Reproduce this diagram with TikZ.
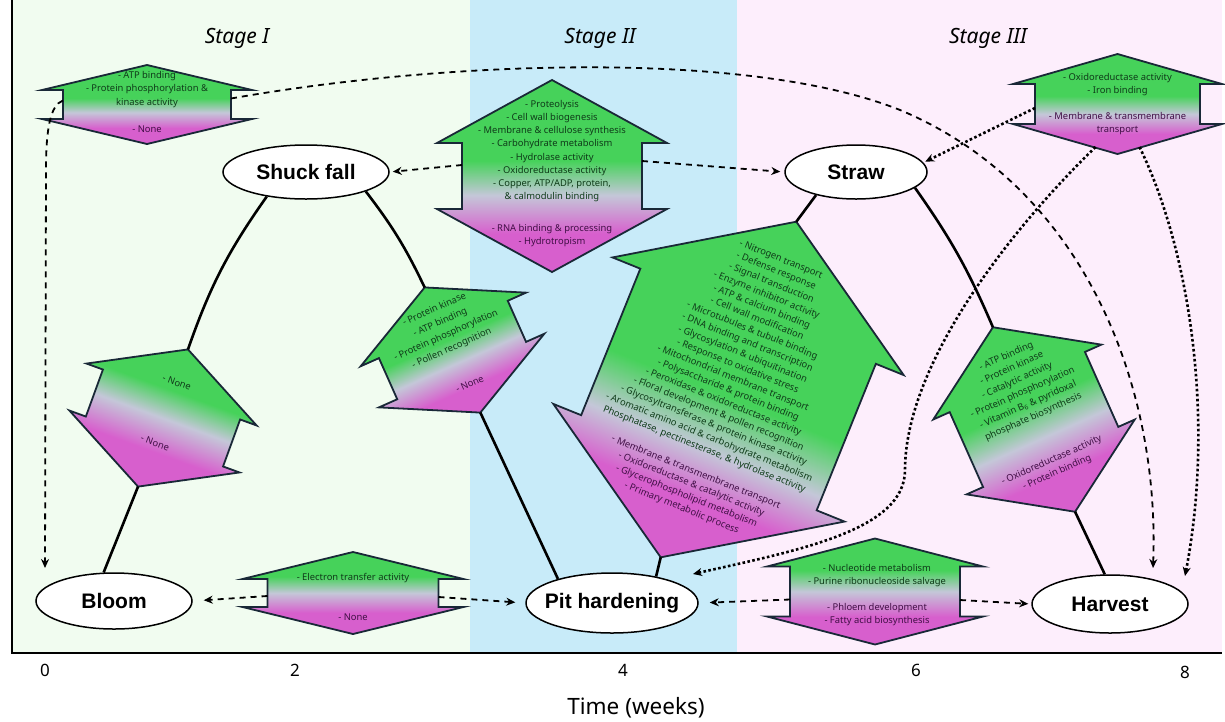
\documentclass[tikz,border=0pt]{standalone}
\usepackage{fontspec}
\setmainfont{Noto Sans}
\newfontfamily\lblfont{Liberation Sans}
\usetikzlibrary{arrows.meta,calc,shapes.geometric}
\definecolor{bgI}{RGB}{241,252,240}
\definecolor{bgII}{RGB}{200,235,249}
\definecolor{bgIII}{RGB}{253,238,252}
\definecolor{agrn}{RGB}{70,210,90}
\definecolor{amag}{RGB}{215,95,205}
\definecolor{agry}{RGB}{196,199,216}
\definecolor{aline}{RGB}{25,40,55}
\definecolor{tgrn}{RGB}{15,60,25}
\definecolor{tmag}{RGB}{65,15,70}
\pgfdeclareverticalshading{gmshade}{100bp}{color(0bp)=(amag); color(35bp)=(amag); color(45bp)=(agry); color(54bp)=(agrn); color(100bp)=(agrn)}
\pgfdeclareverticalshading{gmshadeB}{100bp}{color(0bp)=(amag); color(34bp)=(amag); color(41bp)=(agry); color(49bp)=(agrn); color(100bp)=(agrn)}
\pgfdeclareverticalshading{gmshadeC}{100bp}{color(0bp)=(amag); color(38bp)=(amag); color(50bp)=(agry); color(60bp)=(agrn); color(100bp)=(agrn)}
\newcommand\udpath[4]{(0,{-(#3+#4/2)}) -- ({#1/2},{-#4/2}) -- ({#2/2},{-#4/2}) -- ({#2/2},{#4/2}) -- ({#1/2},{#4/2}) -- (0,{#3+#4/2}) -- ({-#1/2},{#4/2}) -- ({-#2/2},{#4/2}) -- ({-#2/2},{-#4/2}) -- ({-#1/2},{-#4/2}) -- cycle}
\tikzset{
  udshape/.style={shade, shading=#1, draw=aline, line width=1.8pt, line join=miter},
  udshape/.default=gmshade,
  arrowframe/.style n args={3}{transform canvas={shift={(#1,#2)},rotate=#3}},
  tg/.style={text=tgrn, font=\fontsize{9.4}{#1}\selectfont, align=center, inner sep=0pt},
  tm/.style={text=tmag, font=\fontsize{9.4}{#1}\selectfont, align=center, inner sep=0pt},
  tg/.default=13, tm/.default=13,
  stagenode/.style={ellipse, draw=black, line width=1.5pt, fill=white, inner sep=0pt, font=\lblfont\bfseries\fontsize{21}{24}\selectfont},
  stagelab/.style={font=\itshape\fontsize{21}{24}\selectfont, inner sep=0pt},
  ticklab/.style={font=\fontsize{17}{20}\selectfont, inner sep=0pt},
  link/.style={line width=2.6pt, black},
  dashc/.style={-{Stealth[length=9pt,width=8pt]}, line width=1.8pt, dash pattern=on 6pt off 5pt},
  dotc/.style={-{Stealth[length=9pt,width=8pt]}, line width=2.6pt, dash pattern=on 2.6pt off 2.4pt},
}
\begin{document}
\begin{tikzpicture}[x=1pt,y=-1pt]
\useasboundingbox (0,0) rectangle (1225,721);
\fill[white] (0,0) rectangle (1225,721);
\fill[bgI] (12,0) rectangle (470,653);
\fill[bgII] (470,0) rectangle (737,653);
\fill[bgIII] (737,0) rectangle (1222,653);
\draw[line width=1.6pt] (12,0) -- (12,653) -- (1222,653);

% stage labels and axis labels
\node[stagelab] (st1) at (237,38) {Stage I};
\node[stagelab] (st2) at (600,38) {Stage II};
\node[stagelab] (st3) at (988,38) {Stage III};
\node[ticklab] (t0) at (45,670) {0};
\node[ticklab] (t2) at (295,670) {2};
\node[ticklab] (t4) at (623,670) {4};
\node[ticklab] (t6) at (916,670) {6};
\node[ticklab] (t8) at (1185,672) {8};
\node[font=\fontsize{22.5}{26}\selectfont, inner sep=0pt] (xlab) at (636,708) {Time (weeks)};

% stage ellipses
\node[stagenode, minimum width=166, minimum height=54] (shuck) at (306,172) {\makebox[0pt]{Shuck fall}};
\node[stagenode, minimum width=142, minimum height=54] (straw) at (856,172) {\makebox[0pt]{Straw}};
\node[stagenode, minimum width=156, minimum height=56] (bloom) at (114,601) {\makebox[0pt]{Bloom}};
\node[stagenode, minimum width=172, minimum height=60] (pit) at (612,603) {\makebox[0pt]{Pit hardening}};
\node[stagenode, minimum width=156, minimum height=58] (harvest) at (1110,604) {\makebox[0pt]{Harvest}};

% ---- Arrow 1
\begin{scope}[arrowframe={147}{104.5}{0}]
  \path[udshape] \udpath{210}{168}{25}{29};
  \node[tg=13.5] (a1g) at (0,-15) {- ATP binding\\- Protein phosphorylation \&\\kinase activity};
  \node[tm] (a1m) at (0,24.5) {- None};
\end{scope}
\begin{scope}[shift={(147,104.5)}]
  \coordinate (a1L) at (-84,-4); \coordinate (a1R) at (84,-6);
\end{scope}

% ---- Arrow 2
\begin{scope}[arrowframe={552}{176}{0}]
  \path[udshape] \udpath{230}{180}{63}{66};
  \node[tg=13.2] (a2g) at (0,-25) {- Proteolysis\\- Cell wall biogenesis\\- Membrane \& cellulose synthesis\\- Carbohydrate metabolism\\- Hydrolase activity\\- Oxidoreductase activity\\- Copper, ATP/ADP, protein,\\\& calmodulin binding};
  \node[tm=13.2] (a2m) at (0,59.5) {- RNA binding \& processing\\- Hydrotropism};
\end{scope}
\begin{scope}[shift={(552,176)}]
  \coordinate (a2L) at (-90,-11); \coordinate (a2R) at (90,-15);
\end{scope}

% ---- Arrow 3
\begin{scope}[arrowframe={1117.5}{104}{0}]
  \path[udshape] \udpath{209}{165}{30}{40};
  \node[tg] (a3g) at (0,-19.5) {- Oxidoreductase activity\\- Iron binding};
  \node[tm] (a3m) at (0,19.5) {- Membrane \& transmembrane\\transport};
\end{scope}
\begin{scope}[shift={(1117.5,104)}]
  \coordinate (a3L) at (-82.5,4); \coordinate (a3BL) at (-22,43); \coordinate (a3BR) at (22,43);
\end{scope}

% ---- Arrow 4
\begin{scope}[arrowframe={353}{593}{0}]
  \path[udshape=gmshadeC] \udpath{221}{171}{27}{28};
  \node[tg] (a4g) at (0,-15) {- Electron transfer activity};
  \node[tm] (a4m) at (0,24) {- None};
\end{scope}
\begin{scope}[shift={(353,593)}]
  \coordinate (a4L) at (-85.5,3); \coordinate (a4R) at (85.5,4);
\end{scope}

% ---- Arrow 5
\begin{scope}[arrowframe={875}{591.5}{0}]
  \path[udshape=gmshadeC] \udpath{216}{170}{28}{50};
  \node[tg] (a5g) at (2,-16) {- Nucleotide metabolism\\- Purine ribonucleoside salvage};
  \node[tm] (a5m) at (2,23) {- Phloem development\\- Fatty acid biosynthesis};
\end{scope}
\begin{scope}[shift={(875,591.5)}]
  \coordinate (a5L) at (-85,8); \coordinate (a5R) at (85,8.5);
\end{scope}

% ---- Arrow 6
\begin{scope}[arrowframe={163}{418}{-20}]
  \path[udshape=gmshadeC] \udpath{181}{146}{48}{50};
  \node[tg] (a6g) at (1,-38) {- None};
  \node[tm] (a6m) at (1,26) {- None};
\end{scope}
\begin{scope}[shift={(163,418)},rotate=-20]
  \coordinate (a6T) at (0,-73); \coordinate (a6B) at (0,73);
\end{scope}

% ---- Arrow 7
\begin{scope}[arrowframe={452.5}{350}{24}]
  \path[udshape] \udpath{181}{141}{46}{45};
  \node[tg=14.2] (a7g) at (0,-23) {- Protein kinase\\- ATP binding\\- Protein phosphorylation\\- Pollen recognition};
  \node[tm] (a7m) at (2,38) {- None};
\end{scope}
\begin{scope}[shift={(452.5,350)},rotate=24]
  \coordinate (a7T) at (0,-68.5); \coordinate (a7B) at (0,68.5);
\end{scope}

% ---- Arrow 8
\begin{scope}[arrowframe={728.5}{389.5}{-22}]
  \path[udshape=gmshadeB] \udpath{314}{254}{102}{158};
  \node[tg=12.8] (a8g) at (0,-37.5) {- Nitrogen transport\\- Defense response\\- Signal transduction\\- Enzyme inhibitor activity\\- ATP \& calcium binding\\- Cell wall modification\\- Microtubules \& tubule binding\\- DNA binding and transcription\\- Glycosylation \& ubiquitination\\- Response to oxidative stress\\- Mitochondrial membrane transport\\- Polysaccharide \& protein binding\\- Peroxidase \& oxidoreductase activity\\- Floral development \& pollen recognition\\- Glycosyltransferase \& protein kinase activity\\- Aromatic amino acid \& carbohydrate metabolism\\Phosphatase, pectinesterase, \& hydrolase activity};
  \node[tm=12.8] (a8m) at (1,108.4) {- Membrane \& transmembrane transport\\- Oxidoreductase \& catalytic activity\\- Glycerophospholipid metabolism\\- Primary metabolic process};
\end{scope}
\begin{scope}[shift={(728.5,389.5)},rotate=-22]
  \coordinate (a8T) at (0,-181); \coordinate (a8B) at (0,181);
\end{scope}

% ---- Arrow 9
\begin{scope}[arrowframe={1034}{419.5}{24}]
  \path[udshape] \udpath{184}{148}{60}{82};
  \node[tg=13.3] (a9g) at (0.5,-35.7) {- ATP binding\\- Protein kinase\\- Catalytic activity\\- Protein phosphorylation\\- Vitamin B\textsubscript{6} \& pyridoxal\\phosphate biosynthesis};
  \node[tm=13.3] (a9m) at (-0.5,51.3) {- Oxidoreductase activity\\- Protein binding};
\end{scope}
\begin{scope}[shift={(1034,419.5)},rotate=24]
  \coordinate (a9T) at (0,-101); \coordinate (a9B) at (0,101);
\end{scope}

% free arrow ends
\coordinate (bloomarr) at (45,568);
\coordinate (harvarr1) at (1153,568);
\coordinate (harvarr2) at (1185,576);
\coordinate (pitarr) at (693,574);

% solid stage links
\draw[link] (bloom.110) -- (a6B);
\draw[link] (a6T) to[bend left=8] (shuck.212);
\draw[link] (shuck.-18) to[bend left=6] (a7T);
\draw[link] (a7B) -- (pit.156);
\draw[link] (pit.31) -- (a8B);
\draw[link] (a8T) -- (straw.210);
\draw[link] (straw.-15) to[bend left=6] (a9T);
\draw[link] (a9B) -- (harvest.100);

% dashed connectors
\draw[dashc] (a1L) .. controls (50,105) and (46,130) .. (46,170) -- (bloomarr);
\draw[dashc] (a1R) .. controls (450,60) and (750,50) .. (900,110) .. controls (1080,185) and (1160,380) .. (harvarr1);
\draw[dashc, shorten >=3pt] (a2L) -- (shuck.east);
\draw[dashc, shorten >=4pt] (a2R) -- (straw.west);
\draw[dashc, shorten >=11pt] (a4L) -- (bloom.east);
\draw[dashc, shorten >=10pt] (a4R) -- (pit.west);
\draw[dashc, shorten >=11pt] (a5L) -- (pit.east);
\draw[dashc, shorten >=3pt] (a5R) -- (harvest.west);

% dotted connectors
\draw[dotc, shorten >=2pt] (a3L) -- (straw.8);
\draw[dotc] (a3BL) .. controls (1000,240) and (905,370) .. (905,470) .. controls (905,530) and (800,550) .. (pitarr);
\draw[dotc] (a3BR) .. controls (1190,250) and (1215,420) .. (harvarr2);
\end{tikzpicture}
\end{document}
